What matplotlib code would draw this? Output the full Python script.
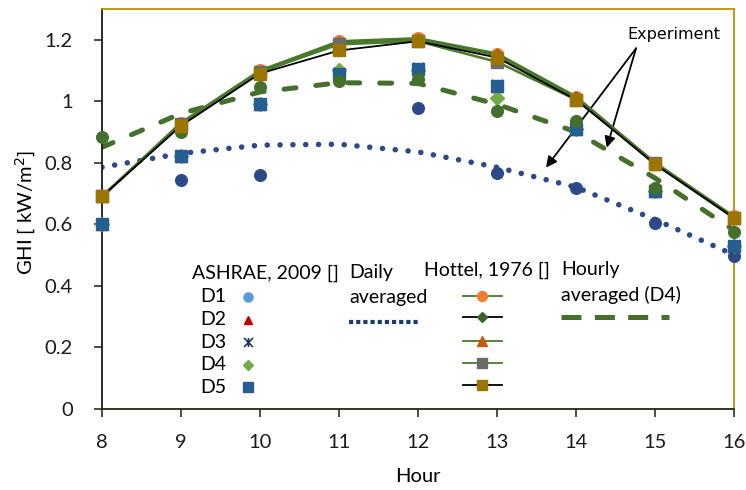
import matplotlib
matplotlib.use("Agg")
import matplotlib.pyplot as plt
from matplotlib.path import Path

plt.rcParams['font.family'] = ['Lato', 'DejaVu Sans']

# hour of day
hours = [8, 9, 10, 11, 12, 13, 14, 15, 16]

# Hottel (1976) clear-sky model, five day variants
hottel_1 = [0.69, 0.93, 1.10, 1.195, 1.205, 1.155, 1.015, 0.80, 0.625]
hottel_2 = [0.69, 0.925, 1.095, 1.19, 1.20, 1.15, 1.01, 0.795, 0.62]
hottel_3 = [0.69, 0.925, 1.095, 1.19, 1.20, 1.15, 1.01, 0.795, 0.62]
hottel_4 = [0.69, 0.925, 1.095, 1.185, 1.195, 1.128, 1.005, 0.80, 0.62]
hottel_5 = [0.69, 0.92, 1.09, 1.165, 1.195, 1.142, 1.005, 0.795, 0.62]

# ASHRAE (2009) model, days D1..D5
ashrae_d1 = [0.60, 0.823, 0.99, 1.09, 1.105, 1.05, 0.91, 0.708, 0.53]
ashrae_d2 = [0.60, 0.823, 0.99, 1.09, 1.105, 1.05, 0.91, 0.708, 0.53]
ashrae_d3 = [0.60, 0.823, 0.99, 1.092, 1.108, 1.052, 0.91, 0.708, 0.53]
ashrae_d4 = [0.60, 0.823, 0.99, 1.10, 1.10, 1.012, 0.91, 0.708, 0.53]
ashrae_d5 = [0.60, 0.823, 0.99, 1.088, 1.105, 1.05, 0.91, 0.708, 0.53]

# measurements
exp_daily = [0.60, 0.742, 0.761, 1.085, 0.978, 0.766, 0.718, 0.603, 0.497]
exp_hourly = [0.882, 0.90, 1.045, 1.066, 1.072, 0.969, 0.937, 0.716, 0.573]

# averaged measurement curves
avg_daily = [0.785, 0.83, 0.857, 0.86, 0.835, 0.785, 0.72, 0.615, 0.50]
avg_hourly = [0.85, 0.96, 1.03, 1.06, 1.058, 0.99, 0.90, 0.75, 0.58]

y_ticks = [0, 0.2, 0.4, 0.6, 0.8, 1.0, 1.2]
y_tick_labels = ['0', '0.2', '0.4', '0.6', '0.8', '1', '1.2']

NAVY = '#2C4A87'
GREEN = '#44702C'
HGREEN = '#4A7A2C'
GOLD = '#BF9000'

# Excel style "star" marker: an X crossed by a vertical bar
star = Path([(-1, -1), (1, 1), (-1, 1), (1, -1), (0, -1), (0, 1)],
            [Path.MOVETO, Path.LINETO, Path.MOVETO, Path.LINETO,
             Path.MOVETO, Path.LINETO])

W, H = 746, 490
L, R, T, B = 102, 734, 9, 408.5
fig = plt.figure(figsize=(W / 100, H / 100), dpi=100)
ax = fig.add_axes([L / W, 1 - B / H, (R - L) / W, (B - T) / H])

# averaged curves
ax.plot(hours, avg_daily, color=NAVY, lw=4.0, linestyle=(0, (0.01, 2.3)),
        dash_capstyle='round', zorder=2)
ax.plot(hours, avg_hourly, color=GREEN, lw=3.6, linestyle=(0, (2.4, 4.0)),
        dash_capstyle='round', zorder=2.1)

# measured points and ASHRAE days
ax.plot(hours, exp_daily, 'o', color=NAVY, ms=8.4, zorder=3, clip_on=False)
ashrae_styles = [
    (ashrae_d1, 'o', '#5B9BD5', 8.4),
    (ashrae_d2, '^', '#C00000', 8.0),
    (ashrae_d3, star, '#1F3864', 8.0),
    (ashrae_d4, 'D', '#70AD47', 7.0),
    (ashrae_d5, 's', '#255E91', 8.4),
]
for vals, mk, col, size in ashrae_styles:
    if mk is star:
        ax.plot(hours, vals, linestyle='none', marker=mk, ms=size, mec=col,
                mew=1.4, zorder=3.2, clip_on=False)
    else:
        ax.plot(hours, vals, linestyle='none', marker=mk, ms=size, color=col,
                zorder=3.2, clip_on=False)
ax.plot(hours, exp_hourly, 'o', color=GREEN, ms=8.4, zorder=3.4, clip_on=False)

# Hottel model curves
hottel_styles = [
    (hottel_1, 'o', '#ED7D31', HGREEN, 1.8, 8.4),
    (hottel_2, 'D', '#3B6524', 'black', 1.3, 6.0),
    (hottel_3, '^', '#C55A11', HGREEN, 1.8, 8.4),
    (hottel_4, 's', '#6B6B6B', HGREEN, 1.8, 8.4),
    (hottel_5, 's', '#9C7400', 'black', 1.3, 8.4),
]
for vals, mk, mcol, lcol, lw, size in hottel_styles:
    ax.plot(hours, vals, color=lcol, lw=lw, marker=mk, ms=size, mfc=mcol,
            mec=mcol, zorder=4, clip_on=False)

ax.set_xlim(8, 16)
ax.set_ylim(0, 1.3)
ax.set_xticks(hours)
ax.set_yticks(y_ticks)
ax.set_yticklabels(y_tick_labels)
ax.tick_params(direction='out', length=6, width=1.1, labelsize=14.5,
               colors='#1a1a1a')
ax.tick_params(axis='y', pad=15)
ax.tick_params(axis='x', pad=12)
ax.spines['left'].set_color('#1a1a1a')
ax.spines['bottom'].set_color('#2a2410')
ax.spines['top'].set_color(GOLD)
ax.spines['right'].set_color(GOLD)
for s in ax.spines.values():
    s.set_linewidth(1.3)

ax.set_xlabel('Hour', fontsize=14.5, va='center')
ax.xaxis.set_label_coords(0.5, -0.171)
ax.set_ylabel('GHI [ kW/m$^2$]', fontsize=14.5, va='center')
ax.yaxis.set_label_coords(-0.12, 0.49)

# annotation for the measured points
ax.text(15.24, 1.217, 'Experiment', family='DejaVu Sans', fontsize=11.5,
        ha='center', va='center')
for tip in [(13.62, 0.784), (14.39, 0.849)]:
    ax.annotate('', xy=tip, xytext=(14.76, 1.172),
                arrowprops=dict(arrowstyle='-|>', color='black', lw=1.3,
                                mutation_scale=16, shrinkA=0, shrinkB=0))


# hand-built legend, laid out in pixel positions
def px(x, y):
    return (x - L) / (R - L), (B - y) / (B - T)


def legend_text(x, y, s):
    ax.text(*px(x, y), s, transform=ax.transAxes, fontsize=14,
            ha='left', va='center')


def legend_line(x0, x1, y, **kw):
    (a0, b), (a1, _) = px(x0, y), px(x1, y)
    ax.plot([a0, a1], [b, b], transform=ax.transAxes, clip_on=False, **kw)


legend_text(192, 273, 'ASHRAE, 2009 []')
rows = [297, 319.5, 342, 364.5, 387]
for i, (y, (vals, mk, col, size)) in enumerate(zip(rows, ashrae_styles)):
    legend_text(200, y, 'D%d' % (i + 1))
    xa, ya = px(248, y)
    if mk is star:
        ax.plot([xa], [ya], marker=mk, ms=6.5, mec=col, mew=1.2,
                linestyle='none', transform=ax.transAxes, clip_on=False)
    else:
        ax.plot([xa], [ya], marker=mk, ms=size * 0.78, color=col,
                linestyle='none', transform=ax.transAxes, clip_on=False)

legend_text(349, 272, 'Daily')
legend_text(349, 298, 'averaged')
legend_line(349, 419, 321.7, color='#1F3A70', lw=3.0,
            linestyle=(0, (1, 0.72)), dash_capstyle='butt')

legend_text(424, 270, 'Hottel, 1976 []')
hrows = [295.7, 317, 340.5, 362.5, 385]
for y, (vals, mk, mcol, lcol, lw, size) in zip(hrows, hottel_styles):
    legend_line(463, 502, y, color=lcol, lw=1.3)
    xa, ya = px(482, y)
    ax.plot([xa], [ya], marker=mk, ms=size * 0.85, mfc=mcol, mec=mcol,
            linestyle='none', transform=ax.transAxes, clip_on=False)

legend_text(561, 269, 'Hourly')
legend_text(561, 295, 'averaged (D4)')
legend_line(561, 669, 317.3, color=GREEN, lw=3.6,
            linestyle=(0, (4.0, 2.67)), dash_capstyle='butt')

fig.savefig('out.png', dpi=100, facecolor='white')
